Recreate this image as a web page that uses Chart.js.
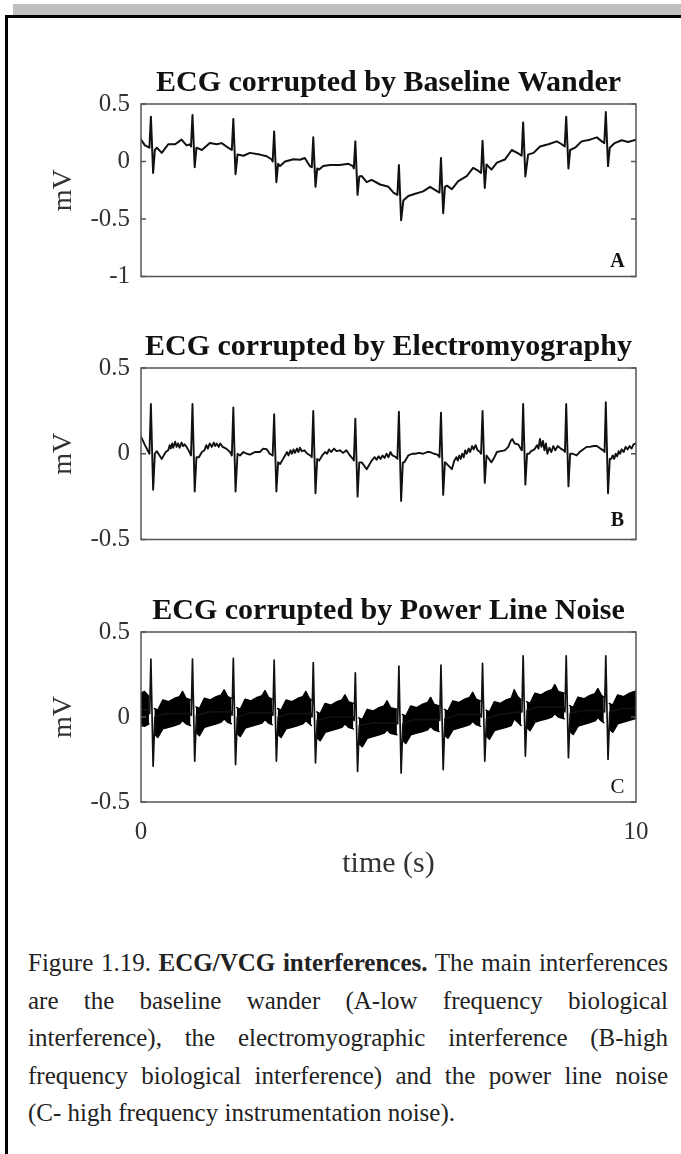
<!DOCTYPE html>
<html>
<head>
<meta charset="utf-8">
<script src="https://cdn.jsdelivr.net/npm/chart.js@4.4.1/dist/chart.umd.min.js"></script>
<style>
  html, body { margin: 0; padding: 0; background: #fff; }
  #page { position: relative; width: 681px; height: 1154px; overflow: hidden; }
  #greyBar { position: absolute; left: 13px; top: 4px; width: 668px; height: 11px; background: #c0c0c0; }
  #frame { position: absolute; left: 5px; top: 15px; width: 700px; height: 1200px;
           border-top: 3px solid #000; border-left: 3px solid #000; }
  canvas { position: absolute; left: 0; }
  #caption { position: absolute; left: 28px; top: 944px; width: 640px;
             font: 25px 'Liberation Serif', serif; line-height: 37.5px; color: #222; }
  #caption .j { text-align: justify; text-align-last: justify; }
</style>
</head>
<body>
<div id="page">
  <div id="greyBar"></div>
  <div id="frame"></div>
  <canvas id="panelA" width="681" height="240" style="top:60px"></canvas>
  <canvas id="panelB" width="681" height="239" style="top:324px"></canvas>
  <canvas id="panelC" width="681" height="320" style="top:588px"></canvas>
  <div id="caption">
    <div class="j">Figure 1.19. <b>ECG/VCG interferences.</b> The main interferences</div>
    <div class="j">are the baseline wander (A-low frequency biological</div>
    <div class="j">interference), the electromyographic interference (B-high</div>
    <div class="j">frequency biological interference) and the power line noise</div>
    <div>(C- high frequency instrumentation noise).</div>
  </div>
</div>

<script>
const panelTitles = ['ECG corrupted by Baseline Wander', 'ECG corrupted by Electromyography', 'ECG corrupted by Power Line Noise'];
const panelLetters = ['A', 'B', 'C'];
const timeTicks = [0, 10];
const yTicksA = [-1, -0.5, 0, 0.5];
const yTicksBC = [-0.5, 0, 0.5];

// [time s, mV]
const wanderPts = [
  [0.00,0.19],[0.08,0.14],[0.17,0.12],[0.20,0.39],[0.245,-0.10],[0.28,0.10],[0.32,0.12],[0.42,0.075],[0.55,0.15],[0.69,0.15],[0.82,0.19],[0.92,0.14],[1.00,0.15],
  [1.01,0.13],[1.04,0.405],[1.085,-0.05],[1.12,0.12],[1.23,0.10],[1.39,0.16],[1.53,0.15],[1.63,0.16],[1.76,0.12],
  [1.835,0.10],[1.865,0.37],[1.91,-0.11],[1.95,0.06],[2.07,0.05],[2.20,0.075],[2.40,0.06],[2.54,0.046],[2.64,0.017],
  [2.66,0.0],[2.69,0.26],[2.735,-0.18],[2.77,-0.02],[2.81,-0.04],[2.91,0.0],[3.08,0.02],[3.21,0.015],[3.31,0.03],[3.41,-0.04],
  [3.45,-0.05],[3.48,0.21],[3.525,-0.22],[3.56,-0.06],[3.60,-0.07],[3.68,-0.04],[3.82,-0.03],[4.02,-0.03],[4.19,-0.02],[4.28,-0.04],
  [4.30,-0.06],[4.33,0.175],[4.375,-0.29],[4.41,-0.13],[4.46,-0.127],[4.56,-0.18],[4.66,-0.16],[4.83,-0.20],[5.00,-0.22],[5.10,-0.27],
  [5.18,-0.29],[5.21,-0.03],[5.255,-0.51],[5.30,-0.34],[5.40,-0.30],[5.54,-0.28],[5.70,-0.26],[5.84,-0.22],[5.97,-0.255],
  [6.03,-0.27],[6.06,0.03],[6.105,-0.45],[6.14,-0.22],[6.18,-0.21],[6.28,-0.24],[6.41,-0.17],[6.58,-0.127],[6.71,-0.055],[6.81,-0.08],
  [6.87,-0.10],[6.90,0.18],[6.945,-0.23],[6.98,-0.026],[7.08,-0.07],[7.19,-0.01],[7.35,0.017],[7.49,0.10],[7.62,0.07],
  [7.69,0.05],[7.72,0.34],[7.765,-0.13],[7.82,0.06],[7.93,0.075],[8.06,0.13],[8.23,0.15],[8.40,0.175],[8.50,0.15],
  [8.56,0.13],[8.59,0.39],[8.635,-0.06],[8.67,0.10],[8.77,0.12],[8.90,0.175],[9.07,0.19],[9.21,0.21],[9.31,0.175],
  [9.36,0.16],[9.39,0.43],[9.435,-0.04],[9.47,0.12],[9.57,0.16],[9.71,0.185],[9.84,0.17],[10.0,0.19]
];

// [time s, mV]
const emgPts = [
  [0.00,0.10],[0.08,0.05],[0.17,0.0],[0.20,0.29],[0.245,-0.21],[0.28,0.0],[0.32,0.015],[0.42,-0.03],[0.50,0.01],
  [0.55,0.02],[0.58,0.05],[0.60,0.03],[0.63,0.06],[0.65,0.035],[0.69,0.07],[0.72,0.04],[0.75,0.06],[0.78,0.035],[0.82,0.065],[0.85,0.045],[0.88,0.055],[0.92,0.04],[0.98,0.01],
  [1.01,-0.01],[1.04,0.29],[1.085,-0.22],[1.12,-0.02],[1.17,-0.02],[1.23,0.01],[1.28,0.02],[1.32,0.05],[1.35,0.03],[1.39,0.06],[1.43,0.04],[1.47,0.065],[1.50,0.045],[1.53,0.06],[1.57,0.04],[1.60,0.06],[1.65,0.04],[1.72,0.03],[1.80,0.01],
  [1.835,-0.01],[1.865,0.27],[1.91,-0.22],[1.95,0.0],[2.00,-0.01],[2.07,0.01],[2.14,0.0],[2.20,-0.005],[2.30,0.01],[2.40,0.01],[2.47,0.03],[2.54,0.026],[2.60,0.0],
  [2.66,-0.01],[2.69,0.23],[2.735,-0.22],[2.77,-0.05],[2.81,-0.06],[2.87,-0.03],[2.91,-0.01],[2.95,0.01],[2.98,-0.01],[3.02,0.02],[3.05,0.0],[3.08,0.025],[3.11,0.005],[3.15,0.03],[3.18,0.01],[3.21,0.035],[3.25,0.015],[3.30,0.02],[3.36,0.0],[3.42,-0.01],
  [3.45,-0.02],[3.48,0.25],[3.525,-0.23],[3.56,-0.03],[3.60,-0.04],[3.66,-0.01],[3.72,0.01],[3.76,0.0],[3.80,0.025],[3.84,0.01],[3.90,0.03],[3.95,0.015],[4.02,0.02],[4.08,0.005],[4.15,0.02],[4.22,-0.01],[4.28,-0.03],
  [4.30,-0.04],[4.33,0.205],[4.375,-0.25],[4.41,-0.05],[4.46,-0.05],[4.56,-0.09],[4.66,-0.04],[4.72,-0.02],[4.76,-0.035],[4.80,-0.015],[4.84,-0.03],[4.88,-0.01],[4.92,-0.025],[4.96,0.0],[5.00,-0.02],[5.04,0.01],[5.08,-0.01],[5.15,-0.02],
  [5.18,-0.03],[5.21,0.245],[5.255,-0.275],[5.29,-0.05],[5.32,-0.05],[5.40,-0.01],[5.48,0.0],[5.54,0.0],[5.62,0.005],[5.70,0.0],[5.78,0.01],[5.84,0.01],[5.92,0.0],[5.99,-0.005],
  [6.03,-0.02],[6.06,0.24],[6.105,-0.24],[6.14,-0.05],[6.18,-0.06],[6.28,-0.09],[6.33,-0.04],[6.37,-0.02],[6.40,-0.04],[6.43,-0.01],[6.46,-0.03],[6.49,0.0],[6.52,-0.02],[6.55,0.02],[6.58,0.0],[6.62,0.03],[6.65,0.01],[6.69,0.045],[6.72,0.025],[6.76,0.05],[6.80,0.02],[6.85,0.01],
  [6.87,0.0],[6.90,0.25],[6.945,-0.17],[6.98,-0.01],[7.08,-0.05],[7.14,-0.02],[7.19,0.01],[7.27,0.015],[7.35,0.02],[7.42,0.04],[7.47,0.075],[7.50,0.086],[7.55,0.06],[7.62,0.055],[7.67,0.03],
  [7.695,0.02],[7.72,0.29],[7.765,-0.18],[7.80,0.0],[7.84,0.0],[7.88,0.015],[7.95,0.026],[8.00,0.05],[8.03,0.03],[8.06,0.086],[8.09,0.04],[8.12,0.075],[8.15,0.02],[8.18,0.06],[8.21,0.0],[8.25,0.035],[8.29,0.01],[8.33,0.045],[8.37,0.02],[8.42,0.045],[8.48,0.03],[8.54,0.02],
  [8.565,0.01],[8.59,0.29],[8.635,-0.19],[8.67,0.0],[8.72,0.0],[8.80,-0.01],[8.86,0.01],[8.93,0.025],[9.00,0.04],[9.07,0.04],[9.14,0.045],[9.21,0.045],[9.28,0.03],[9.34,0.02],
  [9.365,0.01],[9.39,0.30],[9.435,-0.23],[9.47,-0.03],[9.50,-0.03],[9.53,-0.01],[9.56,-0.03],[9.59,0.0],[9.62,-0.015],[9.65,0.015],[9.68,0.0],[9.71,0.026],[9.75,0.01],[9.79,0.04],[9.83,0.025],[9.87,0.045],[9.91,0.03],[9.95,0.055],[10.0,0.06]
];

// [time s, mV] ECG under the mains hum in panel C
const plinePts = [
  [0.00,0.045],[0.16,0.04],[0.175,0.02],[0.20,0.34],[0.245,-0.29],[0.28,0.0],[0.50,0.02],[0.99,0.02],
  [1.015,0.01],[1.04,0.34],[1.085,-0.26],[1.12,0.01],[1.40,0.03],[1.82,0.03],
  [1.84,0.01],[1.865,0.345],[1.91,-0.28],[1.945,0.0],[2.20,0.025],[2.64,0.025],
  [2.665,0.01],[2.69,0.335],[2.735,-0.26],[2.77,0.0],[3.00,0.02],[3.44,0.02],
  [3.455,0.0],[3.48,0.32],[3.525,-0.27],[3.56,-0.02],[3.80,0.0],[4.28,0.0],
  [4.305,-0.02],[4.33,0.26],[4.375,-0.32],[4.41,-0.05],[4.70,-0.035],[5.16,-0.035],
  [5.185,-0.04],[5.21,0.30],[5.255,-0.33],[5.29,-0.04],[5.50,-0.015],[6.01,-0.015],
  [6.035,-0.02],[6.06,0.305],[6.105,-0.31],[6.14,-0.01],[6.40,0.015],[6.85,0.015],
  [6.875,0.0],[6.90,0.315],[6.945,-0.26],[6.98,-0.01],[7.20,0.012],[7.67,0.03],
  [7.695,0.03],[7.72,0.36],[7.765,-0.23],[7.80,0.04],[8.00,0.06],[8.54,0.06],
  [8.565,0.03],[8.59,0.36],[8.635,-0.24],[8.67,0.02],[8.90,0.037],[9.34,0.037],
  [9.365,0.03],[9.39,0.36],[9.435,-0.25],[9.47,0.03],[9.70,0.05],[10.0,0.05]
];

// [time s, upper edge mV, lower edge mV] of the 50 Hz band in panel C, null = gap at a QRS
const humBand = [
  [0.00,0.14,-0.05],[0.07,0.15,-0.055],[0.16,0.12,-0.04],[0.20,null,null],
  [0.27,0.05,-0.10],[0.34,0.04,-0.12],[0.44,0.10,-0.07],[0.56,0.09,-0.06],[0.68,0.11,-0.05],[0.78,0.12,-0.04],[0.84,0.15,-0.02],[0.91,0.11,-0.04],[1.00,0.10,-0.05],[1.04,null,null],
  [1.11,0.06,-0.09],[1.18,0.05,-0.11],[1.28,0.11,-0.06],[1.40,0.10,-0.05],[1.52,0.12,-0.04],[1.62,0.13,-0.03],[1.68,0.16,-0.01],[1.75,0.12,-0.03],[1.825,0.11,-0.04],[1.865,null,null],
  [1.935,0.055,-0.095],[2.005,0.045,-0.115],[2.105,0.105,-0.065],[2.225,0.095,-0.055],[2.345,0.115,-0.045],[2.445,0.125,-0.035],[2.505,0.155,-0.015],[2.575,0.115,-0.035],[2.65,0.105,-0.045],[2.69,null,null],
  [2.76,0.05,-0.10],[2.83,0.04,-0.12],[2.93,0.10,-0.07],[3.05,0.09,-0.06],[3.17,0.11,-0.05],[3.27,0.12,-0.04],[3.33,0.15,-0.02],[3.40,0.11,-0.04],[3.44,0.10,-0.05],[3.48,null,null],
  [3.55,0.03,-0.12],[3.62,0.02,-0.14],[3.72,0.08,-0.09],[3.84,0.07,-0.08],[3.96,0.09,-0.07],[4.06,0.10,-0.06],[4.12,0.13,-0.04],[4.19,0.09,-0.06],[4.29,0.08,-0.07],[4.33,null,null],
  [4.40,-0.005,-0.155],[4.47,-0.015,-0.175],[4.57,0.045,-0.125],[4.69,0.035,-0.115],[4.81,0.055,-0.105],[4.91,0.065,-0.095],[4.97,0.095,-0.075],[5.04,0.055,-0.095],[5.17,0.045,-0.105],[5.21,null,null],
  [5.28,0.015,-0.135],[5.35,0.005,-0.155],[5.45,0.065,-0.105],[5.57,0.055,-0.095],[5.69,0.075,-0.085],[5.79,0.085,-0.075],[5.85,0.115,-0.055],[5.92,0.075,-0.075],[6.02,0.065,-0.085],[6.06,null,null],
  [6.13,0.045,-0.105],[6.20,0.035,-0.125],[6.30,0.095,-0.075],[6.42,0.085,-0.065],[6.54,0.105,-0.055],[6.64,0.115,-0.045],[6.70,0.145,-0.025],[6.77,0.105,-0.045],[6.86,0.095,-0.055],[6.90,null,null],
  [6.97,0.04,-0.11],[7.04,0.03,-0.13],[7.14,0.09,-0.08],[7.26,0.08,-0.07],[7.38,0.10,-0.06],[7.48,0.11,-0.05],[7.54,0.16,-0.01],[7.61,0.12,-0.03],[7.68,0.10,-0.05],[7.72,null,null],
  [7.79,0.09,-0.06],[7.86,0.08,-0.08],[7.96,0.14,-0.03],[8.08,0.13,-0.02],[8.20,0.15,-0.01],[8.30,0.16,0.0],[8.36,0.19,0.02],[8.43,0.15,0.0],[8.55,0.14,-0.01],[8.59,null,null],
  [8.66,0.067,-0.083],[8.73,0.057,-0.103],[8.83,0.117,-0.053],[8.95,0.107,-0.043],[9.07,0.127,-0.033],[9.17,0.137,-0.023],[9.23,0.167,-0.003],[9.30,0.127,-0.023],[9.35,0.117,-0.033],[9.39,null,null],
  [9.46,0.08,-0.07],[9.53,0.07,-0.09],[9.63,0.13,-0.04],[9.75,0.12,-0.03],[9.87,0.14,-0.02],[9.97,0.15,-0.01],[10.0,0.15,-0.01]
];

const serif = "'Liberation Serif', serif";
const toXY = pts => pts.map(p => ({ x: p[0], y: p[1] }));

// plot box, inward tick marks and the panel letter
const boxPlugin = {
    id: 'boxPlugin',
    afterDraw(chart, args, opts) {
        const { ctx, chartArea: a, scales: { y } } = chart;
        ctx.save();
        ctx.strokeStyle = '#555';
        ctx.lineWidth = 1.5;
        ctx.strokeRect(a.left, a.top, a.right - a.left, a.bottom - a.top);
        ctx.beginPath();
        y.ticks.forEach(t => {
            const py = y.getPixelForValue(t.value);
            ctx.moveTo(a.left, py); ctx.lineTo(a.left + 5, py);
            ctx.moveTo(a.right, py); ctx.lineTo(a.right - 5, py);
        });
        ctx.stroke();
        ctx.fillStyle = '#111';
        ctx.font = opts.font;
        ctx.textAlign = 'center';
        ctx.textBaseline = 'middle';
        ctx.fillText(opts.letter, a.right - 18.5, a.bottom - opts.lift);
        ctx.restore();
    }
};

function makePanel(id, idx, yMin, yMax, datasets, opts) {
    const ctx = document.getElementById(id).getContext('2d');
    return new Chart(ctx, {
        type: 'line',
        data: { datasets: datasets },
        options: {
            responsive: false,
            animation: false,
            devicePixelRatio: 1,
            layout: { padding: { top: 8, right: 45, bottom: 0, left: 0 } },
            elements: {
                point: { radius: 0 },
                line: { tension: 0, borderJoinStyle: 'round', borderCapStyle: 'round' }
            },
            plugins: {
                legend: { display: false },
                tooltip: { enabled: false },
                title: {
                    display: true,
                    text: panelTitles[idx],
                    fullSize: false,
                    color: '#111',
                    font: { family: serif, size: 30, weight: 'bold', lineHeight: 1 },
                    padding: { top: 0, bottom: 6 }
                },
                boxPlugin: { letter: panelLetters[idx], font: opts.letterFont, lift: opts.letterLift }
            },
            scales: {
                x: {
                    type: 'linear',
                    min: 0, max: 10,
                    afterBuildTicks: s => { s.ticks = timeTicks.map(v => ({ value: v })); },
                    afterFit: s => { s.height = opts.xHeight; },
                    grid: { display: false, drawTicks: false },
                    border: { display: false },
                    ticks: {
                        display: opts.showTime,
                        color: '#333',
                        padding: 18,
                        maxRotation: 0,
                        callback: v => String(v),
                        font: { family: serif, size: 25, lineHeight: 1 }
                    },
                    title: {
                        display: opts.showTime,
                        text: 'time (s)',
                        color: '#333',
                        font: { family: serif, size: 30, lineHeight: 1 },
                        padding: { top: 0, bottom: 29 }
                    }
                },
                y: {
                    min: yMin, max: yMax,
                    afterBuildTicks: s => { s.ticks = opts.yTicks.map(v => ({ value: v })); },
                    afterFit: s => { s.width = 141; },
                    grid: { display: false, drawTicks: false },
                    border: { display: false },
                    ticks: {
                        color: '#333',
                        padding: 11,
                        callback: v => String(v),
                        font: { family: serif, size: 25, lineHeight: 1 }
                    },
                    title: {
                        display: true,
                        text: 'mV',
                        color: '#333',
                        font: { family: serif, size: 28, lineHeight: 1 },
                        padding: { top: 50, bottom: 0 }
                    }
                }
            }
        },
        plugins: [boxPlugin]
    });
}

makePanel('panelA', 0, -1, 0.5,
    [{ data: toXY(wanderPts), borderColor: '#111', borderWidth: 2, fill: false }],
    { yTicks: yTicksA, xHeight: 22, showTime: false, letterFont: 'bold 20px ' + serif, letterLift: 15 });

makePanel('panelB', 1, -0.5, 0.5,
    [{ data: toXY(emgPts), borderColor: '#111', borderWidth: 1.9, fill: false }],
    { yTicks: yTicksBC, xHeight: 22, showTime: false, letterFont: 'bold 20px ' + serif, letterLift: 19 });

makePanel('panelC', 2, -0.5, 0.5,
    [
        { data: toXY(plinePts), borderColor: '#111', borderWidth: 1.7, fill: false },
        { data: humBand.map(r => ({ x: r[0], y: r[1] })), borderColor: '#000', borderWidth: 1.5,
          backgroundColor: '#000', fill: '+1', spanGaps: false },
        { data: humBand.map(r => ({ x: r[0], y: r[2] })), borderColor: '#000', borderWidth: 1.5,
          fill: false, spanGaps: false }
    ],
    { yTicks: yTicksBC, xHeight: 106, showTime: true, letterFont: '21px ' + serif, letterLift: 15 });
</script>
</body>
</html>
